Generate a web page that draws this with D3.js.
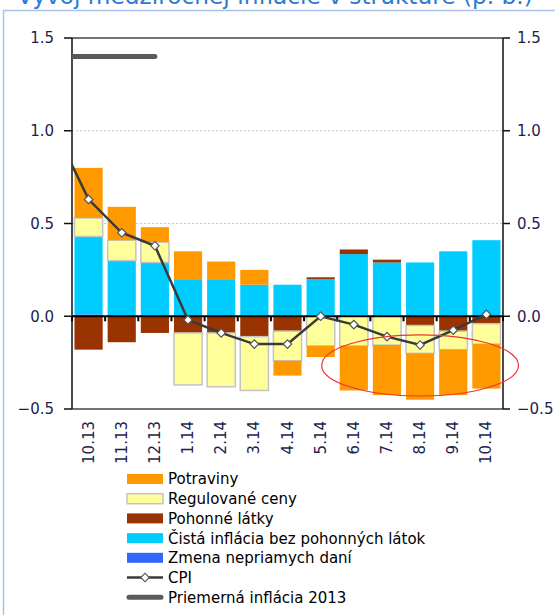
<!DOCTYPE html>
<html>
<head>
<meta charset="utf-8">
<script src="https://cdn.jsdelivr.net/npm/d3@7"></script>
<style>
  body { margin: 0; background: #fff; }
  svg { display: block; font-family: "DejaVu Sans", Verdana, sans-serif; }
  .tick-label { font-size: 15px; fill: #1e1e4e; }
  .legend text { font-size: 15px; fill: #000; }
</style>
</head>
<body>
<div id="chart"></div>
<script>
var categories = ["10.13", "11.13", "12.13", "1.14", "2.14", "3.14", "4.14", "5.14", "6.14", "7.14", "8.14", "9.14", "10.14"];

// components, p.b.
var potraviny   = [0.27, 0.18, 0.08, 0.15, 0.095, 0.08, -0.08, -0.06, -0.24, -0.27, -0.25, -0.245, -0.24];
var regulovane  = [0.10, 0.11, 0.11, -0.28, -0.29, -0.29, -0.16, -0.16, -0.16, -0.155, -0.15, -0.10, -0.11];
var pohonne     = [-0.18, -0.14, -0.09, -0.09, -0.09, -0.11, -0.08, 0.01, 0.025, 0.015, -0.05, -0.08, -0.04];
var cista       = [0.42, 0.30, 0.29, 0.20, 0.20, 0.17, 0.17, 0.20, 0.335, 0.29, 0.29, 0.35, 0.41];
var zmena       = [0.01, 0, 0, 0, 0, 0, 0, 0, 0, 0, 0, 0, 0];

// line series start one month earlier (9.13), which falls outside the axis
var lineCategories = ["9.13"].concat(categories);
var cpi        = [1.0, 0.63, 0.45, 0.38, -0.02, -0.09, -0.15, -0.15, 0.0, -0.045, -0.11, -0.155, -0.075, 0.01];
var priemerna  = [1.4, 1.4, 1.4, 1.4, null, null, null, null, null, null, null, null, null, null];

var yTicks = [1.5, 1.0, 0.5, 0.0, -0.5];
var highlight = {from: "6.14", to: "10.14", hi: -0.1, lo: -0.43};

var series = [
  {key: "potraviny",  name: "Potraviny", color: "#ff9900", values: potraviny},
  {key: "regulovane", name: "Regulované ceny", color: "#ffff99", stroke: "#c4c4c4", values: regulovane},
  {key: "pohonne",    name: "Pohonné látky", color: "#993300", values: pohonne},
  {key: "cista",      name: "Čistá inflácia bez pohonných látok", color: "#00ccff", values: cista},
  {key: "zmena",      name: "Zmena nepriamych daní", color: "#3366ff", values: zmena}
];
var stackOrder = ["zmena", "cista", "pohonne", "regulovane", "potraviny"];

var W = 555, H = 615;
var plot = {left: 72, right: 503, top: 38, bottom: 409};

var svg = d3.select("#chart").append("svg")
  .attr("width", W).attr("height", H);

// frame
svg.append("rect")
  .attr("x", 3.5).attr("y", 10.5)
  .attr("width", W + 10).attr("height", H + 10)
  .attr("fill", "#fff")
  .attr("stroke", "#a9c2ea")
  .attr("stroke-width", 1.5);

// title (cut by the top edge)
var title = svg.append("text")
  .attr("x", 17).attr("y", 4)
  .attr("fill", "#2a7bd4")
  .style("font-size", "20px")
  .text("Vývoj medziročnej inflácie v štruktúre (p. b.)");
var tw = title.node().getComputedTextLength();
title.style("font-size", (20 * 516 / tw) + "px");

var x = d3.scaleBand().domain(categories).range([plot.left, plot.right]).paddingInner(0.15).paddingOuter(0.075);
var y = d3.scaleLinear().domain([-0.5, 1.5]).range([plot.bottom, plot.top]);
var step = x.step();
function xLine(i) { return x(categories[0]) + x.bandwidth() / 2 + (i - 1) * step; }

// gridlines
svg.append("g").selectAll("line")
  .data([0.5, 1.0])
  .join("line")
    .attr("x1", plot.left).attr("x2", plot.right)
    .attr("y1", d => y(d)).attr("y2", d => y(d))
    .attr("stroke", "#c8c8c8")
    .attr("stroke-dasharray", "2,2");

// stacked bars
var rows = categories.map(function(c, i) {
  var r = {cat: c};
  series.forEach(s => r[s.key] = s.values[i]);
  return r;
});
var stacked = d3.stack().keys(stackOrder).offset(d3.stackOffsetDiverging)(rows);
var byKey = {};
series.forEach(s => byKey[s.key] = s);

svg.append("g").selectAll("g")
  .data(stacked)
  .join("g")
    .attr("fill", d => byKey[d.key].color)
    .attr("stroke", d => byKey[d.key].stroke || "none")
    .attr("stroke-width", 1.5)
  .selectAll("rect")
  .data(d => d)
  .join("rect")
    .attr("x", d => x(d.data.cat))
    .attr("width", x.bandwidth())
    .attr("y", d => y(Math.max(d[0], d[1])))
    .attr("height", d => Math.abs(y(d[0]) - y(d[1])));

// plot box top / bottom
svg.append("line")
  .attr("x1", plot.left).attr("x2", plot.right)
  .attr("y1", y(1.5)).attr("y2", y(1.5))
  .attr("stroke", "#444").attr("stroke-width", 1.5);
svg.append("line")
  .attr("x1", plot.left).attr("x2", plot.right)
  .attr("y1", y(-0.5)).attr("y2", y(-0.5))
  .attr("stroke", "#444").attr("stroke-width", 1.5);

// left and right axes
var yAxisL = svg.append("g");
yAxisL.append("line")
  .attr("x1", plot.left).attr("x2", plot.left)
  .attr("y1", plot.top).attr("y2", plot.bottom)
  .attr("stroke", "#111").attr("stroke-width", 1.5);
yAxisL.selectAll(".t").data(yTicks).join("line")
  .attr("x1", plot.left - 8).attr("x2", plot.left)
  .attr("y1", d => y(d)).attr("y2", d => y(d))
  .attr("stroke", "#111").attr("stroke-width", 1.5);
yAxisL.selectAll("text").data(yTicks).join("text")
  .attr("class", "tick-label")
  .attr("x", 54).attr("y", d => y(d)).attr("dy", "0.36em")
  .attr("text-anchor", "end")
  .text(d => d3.format(".1f")(d));

var yAxisR = svg.append("g");
yAxisR.append("line")
  .attr("x1", plot.right).attr("x2", plot.right)
  .attr("y1", plot.top).attr("y2", plot.bottom)
  .attr("stroke", "#111").attr("stroke-width", 1.5);
yAxisR.selectAll(".t").data(yTicks).join("line")
  .attr("x1", plot.right).attr("x2", plot.right + 7)
  .attr("y1", d => y(d)).attr("y2", d => y(d))
  .attr("stroke", "#111").attr("stroke-width", 1.5);
yAxisR.selectAll("text").data(yTicks).join("text")
  .attr("class", "tick-label")
  .attr("x", 517).attr("y", d => y(d)).attr("dy", "0.36em")
  .text(d => d3.format(".1f")(d));

// zero axis with inner ticks at category boundaries
svg.append("line")
  .attr("x1", plot.left).attr("x2", plot.right)
  .attr("y1", y(0)).attr("y2", y(0))
  .attr("stroke", "#000").attr("stroke-width", 2.2);
svg.append("g").selectAll("line")
  .data(d3.range(categories.length + 1))
  .join("line")
    .attr("x1", i => plot.left + i * step).attr("x2", i => plot.left + i * step)
    .attr("y1", y(0)).attr("y2", y(0) + 5)
    .attr("stroke", "#000").attr("stroke-width", 2);

// category labels
svg.append("g").selectAll("text")
  .data(categories)
  .join("text")
    .attr("class", "tick-label")
    .attr("transform", d => `translate(${x(d) + x.bandwidth() / 2 + 5},421) rotate(-90)`)
    .attr("text-anchor", "end")
    .text(d => d);

// lines (clipped to plot area)
svg.append("clipPath").attr("id", "plotclip")
  .append("rect")
    .attr("x", plot.left).attr("y", plot.top - 10)
    .attr("width", plot.right - plot.left + 10).attr("height", plot.bottom - plot.top + 20);

var lineGen = d3.line()
  .defined(d => d.v !== null)
  .x(d => xLine(d.i))
  .y(d => y(d.v));

var lines = svg.append("g").attr("clip-path", "url(#plotclip)");
var avgData = priemerna.map((v, i) => ({i: i, v: v}));
lines.append("path")
  .datum(avgData)
  .attr("d", lineGen)
  .attr("fill", "none")
  .attr("stroke", "#5a5a5a")
  .attr("stroke-width", 5)
  .attr("stroke-linecap", "round");

var cpiData = cpi.map((v, i) => ({i: i, v: v}));
lines.append("path")
  .datum(cpiData)
  .attr("d", lineGen)
  .attr("fill", "none")
  .attr("stroke", "#3a3a3a")
  .attr("stroke-width", 2.5);

var diamond = d3.symbol().type(d3.symbolDiamond2).size(50);
svg.append("g").selectAll("path")
  .data(cpiData.slice(1))
  .join("path")
    .attr("transform", d => `translate(${xLine(d.i)},${y(d.v)}) rotate(45)`)
    .attr("d", d3.symbol().type(d3.symbolSquare).size(36))
    .attr("fill", "#fff")
    .attr("stroke", "#555")
    .attr("stroke-width", 1.2);

// highlight ellipse
var hx0 = x(highlight.from), hx1 = x(highlight.to) + x.bandwidth();
svg.append("ellipse")
  .attr("cx", (hx0 + hx1) / 2)
  .attr("cy", (y(highlight.hi) + y(highlight.lo)) / 2)
  .attr("rx", (hx1 - hx0) / 2 + 18)
  .attr("ry", (y(highlight.lo) - y(highlight.hi)) / 2)
  .attr("fill", "none")
  .attr("stroke", "#ee3333")
  .attr("stroke-width", 1.2);

// legend
var legendItems = series.map(s => ({name: s.name, type: "box", color: s.color, stroke: s.stroke}))
  .concat([{name: "CPI", type: "cpi"}, {name: "Priemerná inflácia 2013", type: "avg"}]);

var legend = svg.append("g").attr("class", "legend")
  .selectAll("g")
  .data(legendItems)
  .join("g")
    .attr("transform", (d, i) => `translate(127,${479 + i * 19.7})`);

legend.filter(d => d.type === "box").append("rect")
  .attr("x", 0).attr("y", -5).attr("width", 36).attr("height", 10)
  .attr("fill", d => d.color)
  .attr("stroke", d => d.stroke || "none")
  .attr("stroke-width", 1.5);

legend.filter(d => d.type === "cpi").each(function() {
  var g = d3.select(this);
  g.append("line").attr("x1", 0).attr("x2", 36).attr("y1", 0).attr("y2", 0)
    .attr("stroke", "#3a3a3a").attr("stroke-width", 2.5);
  g.append("path")
    .attr("transform", "translate(18,0) rotate(45)")
    .attr("d", d3.symbol().type(d3.symbolSquare).size(36))
    .attr("fill", "#fff").attr("stroke", "#555").attr("stroke-width", 1.2);
});

legend.filter(d => d.type === "avg").append("line")
  .attr("x1", 2).attr("x2", 34).attr("y1", 0).attr("y2", 0)
  .attr("stroke", "#5a5a5a").attr("stroke-width", 5).attr("stroke-linecap", "round");

legend.append("text")
  .attr("x", 41).attr("y", 0).attr("dy", "0.36em")
  .text(d => d.name);
</script>
</body>
</html>
